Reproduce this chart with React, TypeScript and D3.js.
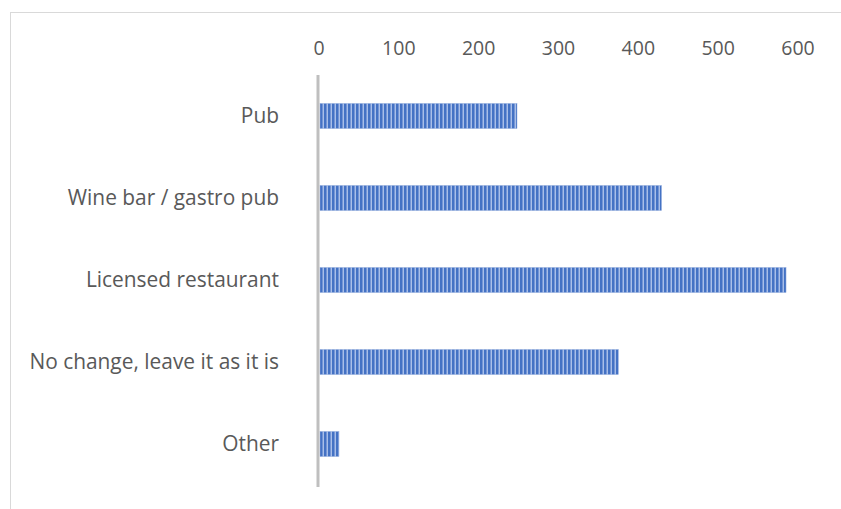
import React from "react";
import * as d3 from "d3";

const categories = ["Pub", "Wine bar / gastro pub", "Licensed restaurant", "No change, leave it as it is", "Other"];
const values = [248, 429, 585, 375, 25];
const tickValues = [0, 100, 200, 300, 400, 500, 600];

export default function App() {
  const W = 841, H = 509;
  const x = d3.scaleLinear().domain([0, 600]).range([319, 798]);
  const y = d3.scaleBand<string>().domain(categories).range([75, 485]).paddingInner(0.695).paddingOuter(0.3475);
  const font = "'Open Sans', sans-serif";
  return (
    <svg width={W} height={H} style={{ position: "absolute", left: 0, top: 0 }}>
      <defs>
        <pattern id="vstripe" width={4} height={10} patternUnits="userSpaceOnUse">
          <rect x={0} y={0} width={4} height={10} fill="#a9bfe8" />
          <rect x={0} y={0} width={2} height={10} fill="#4472C4" />
          <rect x={2} y={0} width={1} height={10} fill="#7596d6" />
        </pattern>
      </defs>
      <rect x={0} y={0} width={W} height={H} fill="#fff" />
      <rect x={10.5} y={12.5} width={W} height={H} fill="none" stroke="#d9d9d9" strokeWidth={1} />
      {tickValues.map((t) => (
        <text key={t} x={x(t)} y={55} textAnchor="middle" fontFamily={font} fontSize={19.5} fill="#595959">
          {t}
        </text>
      ))}
      {categories.map((c, i) => (
        <g key={c}>
          <rect x={x(0) + 1} y={y(c)} width={x(values[i]) - x(0) - 1} height={y.bandwidth()} fill="url(#vstripe)" stroke="#8fa9dc" strokeWidth={0.5} />
          <text x={279} y={(y(c) as number) + y.bandwidth() / 2 + 7} textAnchor="end" fontFamily={font} fontSize={20.9} fill="#595959">
            {c}
          </text>
        </g>
      ))}
      <line x1={x(0) - 1} x2={x(0) - 1} y1={75} y2={487} stroke="#bfbfbf" strokeWidth={3} />
    </svg>
  );
}
